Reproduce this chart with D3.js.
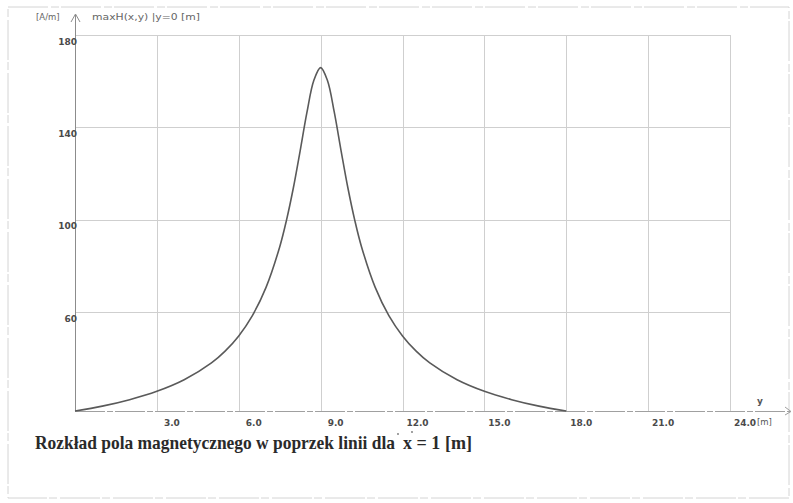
<!DOCTYPE html>
<html>
<head>
<meta charset="utf-8">
<script src="https://cdn.jsdelivr.net/npm/d3@7"></script>
<style>
  body { margin: 0; background: #fff; }
  svg { display: block; }
</style>
</head>
<body>
<script>
// values (y position [m] -> H [A/m])
var yPositions = [0, 1, 2, 3, 4, 5, 5.5, 6, 6.5, 7, 7.5, 7.75, 8, 8.25, 8.5, 8.75, 9,
                  9.25, 9.5, 9.75, 10, 10.25, 10.5, 11, 11.5, 12, 12.5, 13, 14, 15, 16, 17, 18];
var fieldValues = [17.3, 19.4, 22.2, 25.8, 30.8, 38.1, 43.2, 49.8, 58.6, 70.8, 88.3, 99.9, 113.8, 129.9, 146.6, 160.3, 165.9,
                   160.3, 146.6, 129.9, 113.8, 99.9, 88.3, 70.8, 58.6, 49.8, 43.2, 38.1, 30.8, 25.8, 22.2, 19.4, 17.3];
var xTickValues = [3, 6, 9, 12, 15, 18, 21, 24];
var yTickValues = [60, 100, 140, 180];
var yMin = 17.3;

var width = 793, height = 503;
var plot = {left: 75, right: 730, top: 35, bottom: 411};

var svg = d3.select("body").append("svg")
    .attr("width", width)
    .attr("height", height);

svg.append("rect")
    .attr("width", width).attr("height", height)
    .attr("fill", "#fff");

// faint frame of the scanned page
svg.append("rect")
    .attr("x", 8).attr("y", 7)
    .attr("width", 781).attr("height", 491)
    .attr("fill", "none")
    .attr("stroke", "#d4d4d4")
    .attr("stroke-dasharray", "40,3,8,2");

var xScale = d3.scaleLinear().domain([0, 24]).range([plot.left, plot.right]);
var yScale = d3.scaleLinear().domain([yMin, 180]).range([plot.bottom, plot.top]);

// grid
var grid = svg.append("g").attr("stroke", "#cfcfcf").attr("stroke-width", 1);
grid.selectAll(".vgrid")
    .data(xTickValues)
  .enter().append("line")
    .attr("class", "vgrid")
    .attr("x1", function(d) { return Math.round(xScale(d)) + 0.5; })
    .attr("x2", function(d) { return Math.round(xScale(d)) + 0.5; })
    .attr("y1", yScale(180))
    .attr("y2", plot.bottom);
grid.selectAll(".hgrid")
    .data(yTickValues)
  .enter().append("line")
    .attr("class", "hgrid")
    .attr("x1", plot.left)
    .attr("x2", plot.right)
    .attr("y1", function(d) { return Math.round(yScale(d)) + 0.5; })
    .attr("y2", function(d) { return Math.round(yScale(d)) + 0.5; });

// axes lines with arrows
svg.append("line")
    .attr("x1", plot.left + 0.5).attr("x2", plot.left + 0.5)
    .attr("y1", 15).attr("y2", plot.bottom)
    .attr("stroke", "#8c8c8c");
svg.append("path")
    .attr("d", "M" + (plot.left - 4) + ",22L" + (plot.left + 0.5) + ",14L" + (plot.left + 5) + ",22")
    .attr("fill", "none").attr("stroke", "#8c8c8c");
svg.append("line")
    .attr("x1", plot.left).attr("x2", 791)
    .attr("y1", plot.bottom + 0.5).attr("y2", plot.bottom + 0.5)
    .attr("stroke", "#a0a0a0")
    .attr("stroke-dasharray", "30,2,6,2");
svg.append("path")
    .attr("d", "M785,407L791," + (plot.bottom + 0.5) + "L785,415")
    .attr("fill", "none").attr("stroke", "#a0a0a0");

// tick labels
var tickFont = "'DejaVu Sans', Verdana, sans-serif";
svg.selectAll(".ylab")
    .data(yTickValues)
  .enter().append("text")
    .attr("class", "ylab")
    .attr("x", plot.left + 2)
    .attr("y", function(d) { return yScale(d) + 9.5; })
    .attr("text-anchor", "end")
    .style("font-family", tickFont)
    .style("font-size", "9px")
    .style("font-weight", "bold")
    .attr("fill", "#4a4a4a")
    .text(function(d) { return d; });

svg.selectAll(".xlab")
    .data(xTickValues)
  .enter().append("text")
    .attr("class", "xlab")
    .attr("x", function(d) { return xScale(d) + 15; })
    .attr("y", 426)
    .attr("text-anchor", "middle")
    .style("font-family", tickFont)
    .style("font-size", "9px")
    .style("font-weight", "bold")
    .attr("fill", "#4a4a4a")
    .text(function(d) { return d.toFixed(1); });

svg.append("text")
    .attr("x", 757).attr("y", 425)
    .style("font-family", tickFont)
    .style("font-size", "8.5px")
    .attr("fill", "#555")
    .text("[m]");

svg.append("text")
    .attr("x", 760).attr("y", 404)
    .attr("text-anchor", "middle")
    .style("font-family", tickFont)
    .style("font-size", "9px")
    .style("font-weight", "bold")
    .attr("fill", "#555")
    .text("y");

// header over the y axis
svg.append("text")
    .attr("x", 36).attr("y", 20)
    .style("font-family", tickFont)
    .style("font-size", "8.5px")
    .attr("fill", "#666")
    .text("[A/m]");
svg.append("text")
    .attr("x", 92).attr("y", 20)
    .attr("textLength", 108)
    .attr("lengthAdjust", "spacingAndGlyphs")
    .style("font-family", tickFont)
    .style("font-size", "8.5px")
    .attr("fill", "#666")
    .text("maxH(x,y) |y=0 [m]");

// the curve
var line = d3.line()
    .x(function(d) { return xScale(d[0]); })
    .y(function(d) { return yScale(d[1]); })
    .curve(d3.curveCatmullRom);

svg.append("path")
    .datum(d3.zip(yPositions, fieldValues))
    .attr("d", line)
    .attr("fill", "none")
    .attr("stroke", "#5a5a5a")
    .attr("stroke-width", 1.6);

// caption
var serif = "'Liberation Serif', 'Times New Roman', serif";
svg.append("text")
    .attr("x", 35).attr("y", 449)
    .attr("textLength", 360)
    .attr("lengthAdjust", "spacingAndGlyphs")
    .style("font-family", serif)
    .style("font-size", "19px")
    .style("font-weight", "bold")
    .attr("fill", "#2a2a2a")
    .text("Rozkład pola magnetycznego w poprzek linii dla");
svg.append("text")
    .attr("x", 403).attr("y", 449)
    .attr("textLength", 69)
    .attr("lengthAdjust", "spacingAndGlyphs")
    .style("font-family", serif)
    .style("font-size", "19px")
    .style("font-weight", "bold")
    .attr("fill", "#2a2a2a")
    .text("x = 1 [m]");
// little vector dots over the x
svg.append("circle").attr("cx", 398).attr("cy", 434).attr("r", 0.9).attr("fill", "#777");
svg.append("circle").attr("cx", 412).attr("cy", 432).attr("r", 0.9).attr("fill", "#777");
</script>
</body>
</html>
